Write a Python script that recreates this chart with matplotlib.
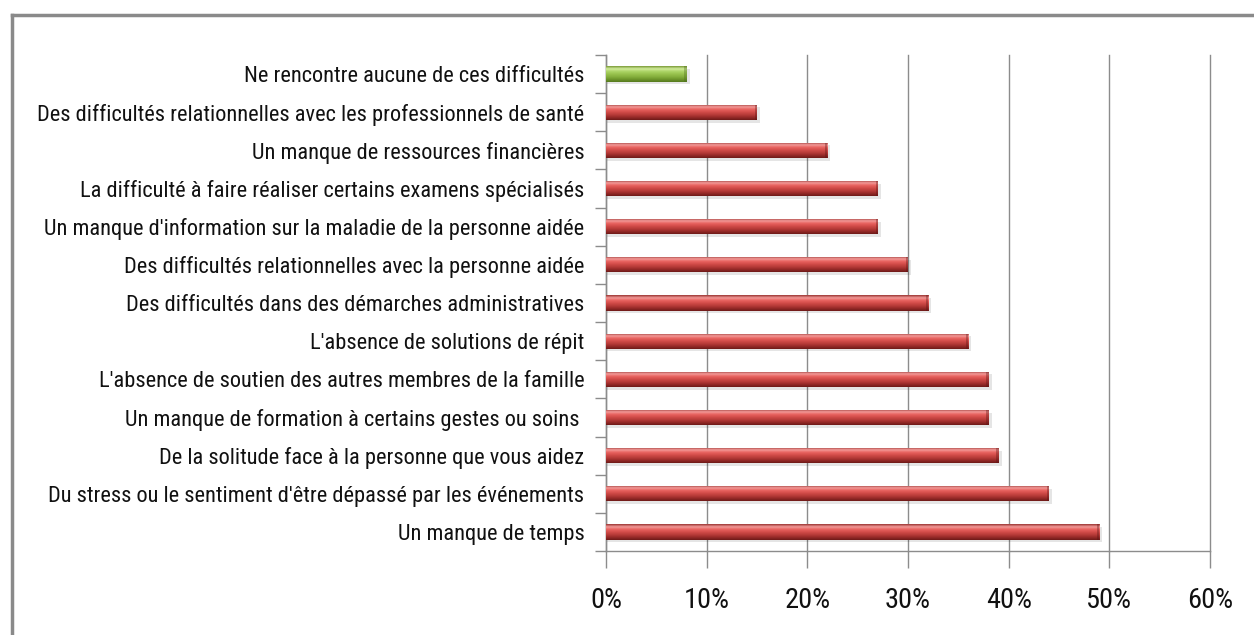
import matplotlib
matplotlib.use("Agg")
import matplotlib.pyplot as plt
from matplotlib.lines import Line2D
from matplotlib.ticker import FuncFormatter
from matplotlib.colors import LinearSegmentedColormap
from matplotlib import font_manager
import numpy as np

categories = [
    "Un manque de temps",
    "Du stress ou le sentiment d'être dépassé par les événements",
    "De la solitude face à la personne que vous aidez",
    "Un manque de formation à certains gestes ou soins ",
    "L'absence de soutien des autres membres de la famille",
    "L'absence de solutions de répit",
    "Des difficultés dans des démarches administratives",
    "Des difficultés relationnelles avec la personne aidée",
    "Un manque d'information sur la maladie de la personne aidée",
    "La difficulté à faire réaliser certains examens spécialisés",
    "Un manque de ressources financières",
    "Des difficultés relationnelles avec les professionnels de santé",
    "Ne rencontre aucune de ces difficultés",
]
values = [49, 44, 39, 38, 38, 36, 32, 30, 27, 27, 22, 15, 8]
xticks = [0, 10, 20, 30, 40, 50, 60]

# pick a narrow font if one is installed
names = {f.name for f in font_manager.fontManager.ttflist}
stretch = 'normal'
chosen = 'Liberation Sans'
for cand in ['Liberation Sans Narrow', 'Roboto Condensed', 'Open Sans Condensed', 'DejaVu Sans Condensed']:
    if cand in names:
        chosen = cand
        break
else:
    cond = [f for f in font_manager.fontManager.ttflist
            if ('Condensed' in f.name or 'Narrow' in f.name or f.stretch in ('condensed', 'semi-condensed'))
            and f.weight in (400, 'normal', 'regular')]
    if cond:
        chosen = cond[0].name
        stretch = cond[0].stretch
plt.rcParams['font.family'] = [chosen, 'DejaVu Sans']
plt.rcParams['font.stretch'] = stretch

fig = plt.figure(figsize=(12.54, 6.35), dpi=100)
W, H = 1254, 635
ax = fig.add_axes([606 / W, 1 - 551 / H, (1210 - 606) / W, (551 - 55) / H])

y = np.arange(len(categories))
colors = ['#C0504D'] * (len(categories) - 1) + ['#9BBB59']
bars = ax.barh(y, values, height=0.40, color=colors, zorder=3, edgecolor='none')

red_grad = ['#9a3634', '#f29a98', '#e8625f', '#d24c49', '#b83c39', '#962a28', '#6e1a18']
green_grad = ['#7a9a38', '#d2ec9c', '#acd466', '#98c24e', '#86b03e', '#6e962c', '#567a1e']
cmap_r = LinearSegmentedColormap.from_list('r', red_grad)
cmap_g = LinearSegmentedColormap.from_list('g', green_grad)
grad = np.linspace(0, 1, 64).reshape(-1, 1)
for b, c in zip(bars, colors):
    x0, y0 = b.get_x(), b.get_y()
    w, h = b.get_width(), b.get_height()
    ax.barh(y0 + h / 2 - 0.07, w + 0.3, height=h, left=x0, color='#000000', alpha=0.10, zorder=2)
    cm = cmap_g if c == '#9BBB59' else cmap_r
    im = ax.imshow(grad, aspect='auto', cmap=cm, extent=(x0, x0 + w, y0, y0 + h),
                   zorder=4, interpolation='bilinear')
    im.set_clip_path(b)
    ax.barh(y0 + h / 2, 0.22, height=h, left=x0 + w - 0.22,
            color='#5a1212' if cm is cmap_r else '#4a6a18', alpha=0.35, zorder=5)

ax.set_xlim(0, 60)
ax.set_ylim(-0.5, len(categories) - 0.5)
ax.set_xticks(xticks)
ax.xaxis.set_major_formatter(FuncFormatter(lambda v, p: f"{int(v)}%"))
ax.set_yticks(y)
ax.set_yticklabels(categories)

ax.grid(axis='x', color='#8c8c8c', linewidth=1.0, zorder=0)
for gl in ax.get_xgridlines():
    gl.set_clip_on(False)
ax.set_axisbelow(True)
for s in ['top', 'right']:
    ax.spines[s].set_visible(False)
for s in ['left', 'bottom']:
    ax.spines[s].set_color('#8c8c8c')
    ax.spines[s].set_linewidth(1.0)

ax.tick_params(axis='y', which='major', length=0, pad=15.5, labelsize=15, labelcolor='#111111')
ax.tick_params(axis='x', length=12, width=1, color='#8c8c8c', pad=14, labelsize=20, labelcolor='#111111')
ax.set_yticks(np.arange(-0.5, len(categories), 1.0), minor=True)
ax.tick_params(axis='y', which='minor', length=8, width=1, color='#8c8c8c')

# fit label sizes to the reference widths
fig.canvas.draw()
r = fig.canvas.get_renderer()
ylabs = ax.get_yticklabels()
longest = max(ylabs, key=lambda t: t.get_window_extent(r).width)
wy = longest.get_window_extent(r).width
sy = 15 * 546.0 / wy
for t in ylabs:
    t.set_fontsize(sy)
xl = ax.get_xticklabels()
wx = xl[-1].get_window_extent(r).width
sx = 20 * 46.0 / wx
for t in xl:
    t.set_fontsize(sx)
for gl in ax.get_xgridlines():
    gl.set_clip_on(False)

fig.add_artist(Line2D([11.5 / W, 1.0], [1 - 14.5 / H, 1 - 14.5 / H], color='#8a8a8a', linewidth=2.5,
                      transform=fig.transFigure))
fig.add_artist(Line2D([11.5 / W, 11.5 / W], [0, 1 - 14.5 / H], color='#8a8a8a', linewidth=2.5,
                      transform=fig.transFigure))

fig.savefig("out.png", dpi=100)
